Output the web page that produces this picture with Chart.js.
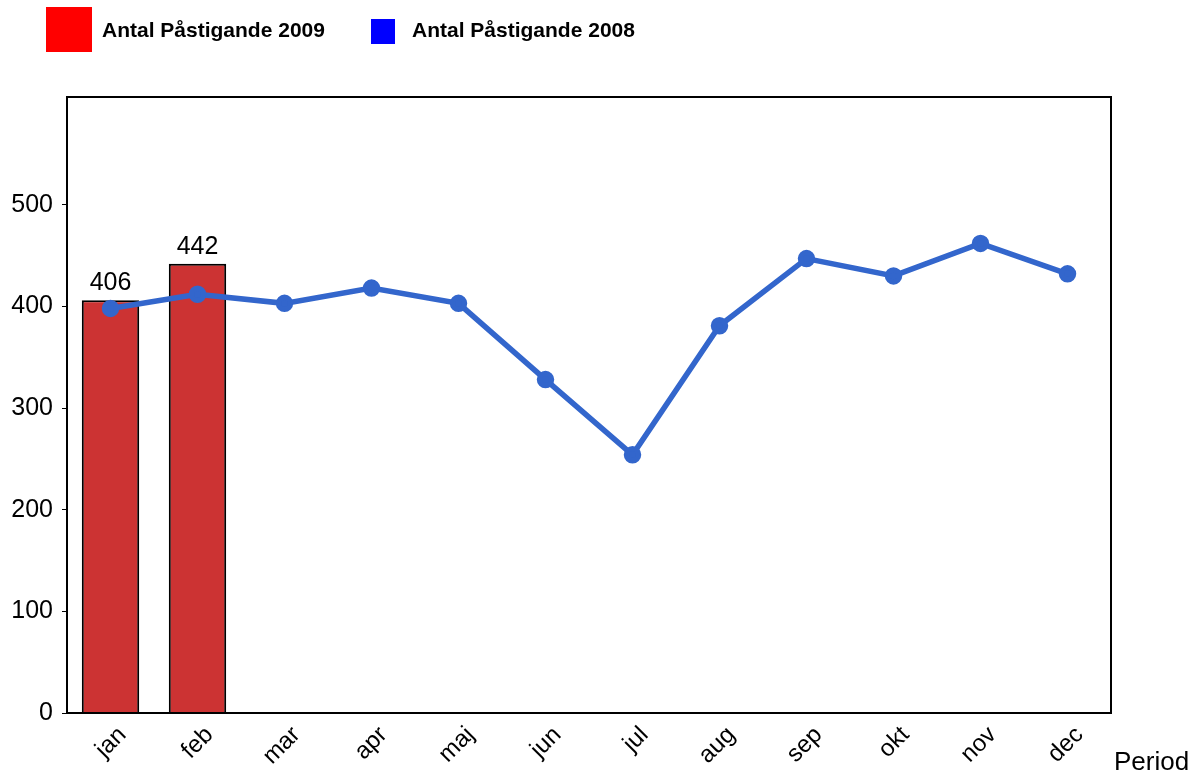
<!DOCTYPE html>
<html>
<head>
<meta charset="utf-8">
<script src="https://cdn.jsdelivr.net/npm/chart.js@4"></script>
<style>
  html, body { margin: 0; padding: 0; background: #fff; }
  #wrap { position: relative; width: 1202px; height: 778px; }
  canvas { position: absolute; left: 0; top: 0; }
  .legend { position: absolute; font: bold 21px "Liberation Sans", Arial, sans-serif; color: #000; }
  .box { position: absolute; }
</style>
</head>
<body>
<div id="wrap">
  <canvas id="chart" width="1202" height="778"></canvas>
  <div class="box" style="left:46px;top:7px;width:46px;height:45px;background:#ff0000"></div>
  <div class="legend" style="left:102px;top:18px">Antal Påstigande 2009</div>
  <div class="box" style="left:371px;top:19px;width:24px;height:25px;background:#0000ff"></div>
  <div class="legend" style="left:412px;top:18px">Antal Påstigande 2008</div>
</div>
<script>
const months = ["jan", "feb", "mar", "apr", "maj", "jun", "jul", "aug", "sep", "okt", "nov", "dec"];
const passengers2009 = [406, 442];
const passengers2008 = [398, 412, 403, 418, 403, 328, 254, 381, 447, 430, 462, 432];
const yTicks = [0, 100, 200, 300, 400, 500];

const FONT = '"Liberation Sans", Arial, sans-serif';

// frame round the plot, bar value labels and the "Period" caption
const extras = {
  id: "extras",
  afterDraw: (chart) => {
    const { ctx, chartArea } = chart;
    ctx.save();
    ctx.strokeStyle = "#000";
    ctx.lineWidth = 2;
    ctx.strokeRect(chartArea.left, chartArea.top, chartArea.right - chartArea.left, chartArea.bottom - chartArea.top);

    ctx.fillStyle = "#000";
    ctx.font = "25px " + FONT;
    ctx.textAlign = "center";
    ctx.textBaseline = "alphabetic";
    const meta = chart.getDatasetMeta(1);
    meta.data.forEach((bar, i) => {
      ctx.fillText(String(passengers2009[i]), bar.x, bar.y - 10);
    });

    ctx.font = "26px " + FONT;
    ctx.textAlign = "left";
    ctx.fillText("Period", 1114, 770);
    ctx.restore();
  },
};

new Chart(document.getElementById("chart"), {
  data: {
    labels: months,
    datasets: [
      {
        type: "line",
        label: "Antal Påstigande 2008",
        data: passengers2008,
        borderColor: "#3366cc",
        backgroundColor: "#3366cc",
        borderWidth: 5.5,
        pointRadius: 6,
        pointHoverRadius: 6,
        tension: 0,
        order: 0,
      },
      {
        type: "bar",
        label: "Antal Påstigande 2009",
        data: passengers2009,
        backgroundColor: "#cc3333",
        borderColor: "#000",
        borderWidth: 2,
        barPercentage: 0.66,
        categoryPercentage: 1,
        order: 1,
      },
    ],
  },
  options: {
    responsive: false,
    animation: false,
    layout: { padding: { top: 97, right: 91, left: 0, bottom: 0 } },
    plugins: { legend: { display: false }, tooltip: { enabled: false } },
    scales: {
      x: {
        grid: { display: false },
        border: { color: "#000", width: 2 },
        ticks: {
          color: "#000",
          font: { family: FONT, size: 24 },
          minRotation: 45,
          maxRotation: 45,
          padding: 0,
          labelOffset: 12,
        },
        afterFit: (scale) => { scale.height = 65; },
      },
      y: {
        min: 0,
        max: 606,
        afterBuildTicks: (scale) => { scale.ticks = yTicks.map((v) => ({ value: v })); },
        grid: { drawOnChartArea: false, tickLength: 5, color: "#000" },
        border: { color: "#000", width: 2 },
        ticks: {
          autoSkip: false,
          color: "#000",
          font: { family: FONT, size: 25 },
          padding: 9,
        },
        afterFit: (scale) => { scale.width = 67; },
      },
    },
  },
  plugins: [extras],
});
</script>
</body>
</html>
